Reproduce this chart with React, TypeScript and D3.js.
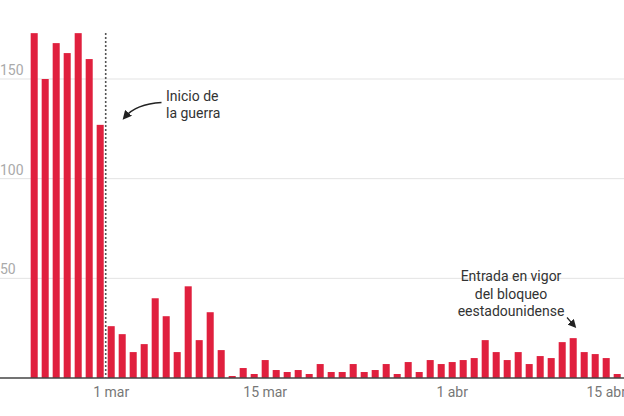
import React from "react";
import * as d3 from "d3";

const W = 624;
const H = 416;

// Daily values, 22 Feb – 16 Apr
const startDate = new Date(2022, 1, 22);
const values: number[] = [
  173, 150, 168, 163, 173, 160, 127, // 22–28 feb
  26, 22, 13, 17, 40, 31, 13, 46, 19, 33, 14, 1, 5, 2, 9, 4, 3, 4, 2, 7, // 1–20 mar
  3, 3, 7, 3, 4, 7, 2, 8, 3, 9, 7, // 21–31 mar
  8, 9, 10, 19, 13, 9, 13, 7, 11, 10, 18, 20, 13, 12, 10, 2, // 1–16 abr
];
const dates: Date[] = values.map((_, i) => d3.timeDay.offset(startDate, i));
const yTicks = [50, 100, 150];
const xTickDates = [new Date(2022, 2, 1), new Date(2022, 2, 15), new Date(2022, 3, 1), new Date(2022, 3, 15)];
const xTickLabels = ["1 mar", "15 mar", "1 abr", "15 abr"];
const warDate = new Date(2022, 2, 1);
const annotWar = ["Inicio de", "la guerra"];
const annotBlock = ["Entrada en vigor", "del bloqueo", "eestadounidense"];

const FONT = "Roboto, 'Noto Sans', sans-serif";

export default function App() {
  const key = (d: Date) => d3.timeFormat("%Y-%m-%d")(d);
  const x = d3
    .scaleBand<string>()
    .domain(dates.map(key))
    .range([28.7, 28.7 + 11 * values.length])
    .paddingInner(0.36)
    .paddingOuter(0.18);
  const y = d3.scaleLinear().domain([0, 150]).range([378, 79]);
  const bw = x.bandwidth();
  const warX = (x(key(warDate)) as number) - (x.step() - bw) / 2;

  const arrow1 = d3.path();
  arrow1.moveTo(161.5, 102.5);
  arrow1.quadraticCurveTo(136, 104, 125, 117);

  return (
    <svg
      width={W}
      height={H}
      style={{ position: "absolute", left: 0, top: 0, background: "#fff" }}
      fontFamily={FONT}
    >
      <defs>
        <marker id="ah" viewBox="0 0 10 10" refX="6" refY="5" markerWidth="7" markerHeight="7" orient="auto">
          <path d="M0,0 L10,5 L0,10 z" fill="#222" />
        </marker>
      </defs>
      {yTicks.map((t) => (
        <g key={t}>
          <line x1={0} x2={W} y1={y(t)} y2={y(t)} stroke="#e3e3e3" strokeWidth={1} />
          <text x={0} y={y(t) - 4} fontSize={14} fill="#aaa">
            {t}
          </text>
        </g>
      ))}
      {values.map((v, i) => (
        <rect
          key={i}
          x={x(key(dates[i]))}
          y={y(v)}
          width={bw}
          height={y(0) - y(v)}
          fill="#e0203e"
        />
      ))}
      <line x1={0} x2={W} y1={y(0)} y2={y(0)} stroke="#444" strokeWidth={1.5} />
      <line
        x1={warX}
        x2={warX}
        y1={33}
        y2={y(0)}
        stroke="#555"
        strokeWidth={1.6}
        strokeDasharray="2,2"
      />
      {xTickDates.map((d, i) => (
        <text
          key={i}
          x={(x(key(d)) as number) + bw / 2}
          y={397}
          fontSize={14}
          fill="#777"
          textAnchor="middle"
        >
          {xTickLabels[i]}
        </text>
      ))}
      <text fontSize={14} fill="#333">
        {annotWar.map((l, i) => (
          <tspan key={i} x={166} y={101 + i * 16.5}>
            {l}
          </tspan>
        ))}
      </text>
      <path d={arrow1.toString()} fill="none" stroke="#222" strokeWidth={1.3} markerEnd="url(#ah)" />
      <text fontSize={14} fill="#333" textAnchor="middle">
        {annotBlock.map((l, i) => (
          <tspan key={i} x={511} y={281 + i * 17.5}>
            {l}
          </tspan>
        ))}
      </text>
      <path d="M567,317.5 L574,325.5" fill="none" stroke="#222" strokeWidth={1.2} markerEnd="url(#ah)" />
    </svg>
  );
}
